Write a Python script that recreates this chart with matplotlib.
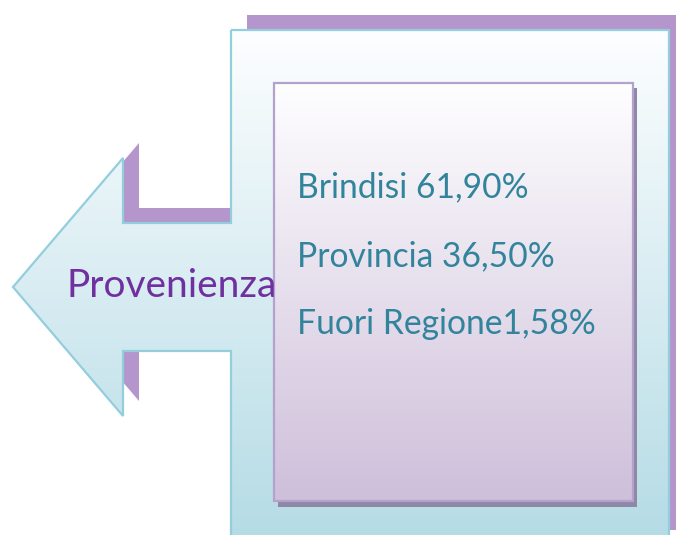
import numpy as np
import matplotlib.pyplot as plt
from matplotlib.patches import Polygon, Rectangle
from matplotlib.colors import LinearSegmentedColormap

# dati
titolo = "Provenienza"
categorie = ["Brindisi ", "Provincia ", "Fuori Regione"]
percentuali = [61.90, 36.50, 1.58]

W, H = 676, 535
fig = plt.figure(figsize=(W / 100, H / 100), dpi=100)
ax = fig.add_axes([0, 0, 1, 1])
ax.set_xlim(0, W)
ax.set_ylim(H, 0)
ax.axis('off')


def gradient(ax, patch, c_top, c_bot, y0, y1, x0, x1, z):
    cmap = LinearSegmentedColormap.from_list('g', [c_top, c_bot])
    grad = np.linspace(0, 1, 256).reshape(-1, 1)
    im = ax.imshow(grad, cmap=cmap, extent=(x0, x1, y1, y0), aspect='auto',
                   zorder=z, interpolation='bicubic')
    im.set_clip_path(patch)


# forma a freccia (coordinate in pixel)
freccia = [(231, 30), (669, 30), (669, 545), (231, 545), (231, 351), (123, 351),
           (123, 416), (13, 287), (123, 158), (123, 223), (231, 223)]
dx, dy = 16, -15
ombra = Polygon([(x + dx, y + dy) for x, y in freccia], closed=True,
                facecolor='#b495cc', edgecolor='none', zorder=1)
ax.add_patch(ombra)

forma = Polygon(freccia, closed=True, facecolor='none', edgecolor='#93cedc',
                lw=1.6, zorder=3)
ax.add_patch(forma)
gradient(ax, forma, '#fdfeff', '#b4dbe5', 30, 545, 13, 669, 2)

# riquadro interno
ax.add_patch(Rectangle((278, 88), 359, 419, facecolor='#8e87a6', edgecolor='none', zorder=4))
box = Rectangle((274, 83), 359, 418, facecolor='none', edgecolor='#b4a2cc', lw=1.6, zorder=6)
ax.add_patch(box)
gradient(ax, box, '#fefeff', '#cebfda', 83, 501, 274, 633, 5)

ax.text(66, 297, titolo, color='#7030a0', fontsize=28, family='Lato',
        va='baseline', ha='left', zorder=7)

basi = [197, 266, 334]
for cat, p, yb in zip(categorie, percentuali, basi):
    s = cat + f"{p:.2f}".replace('.', ',') + "%"
    ax.text(297, yb, s, color='#31849b', fontsize=24.2, family='Lato',
            va='baseline', ha='left', zorder=7)

fig.savefig('out.png', dpi=100)
